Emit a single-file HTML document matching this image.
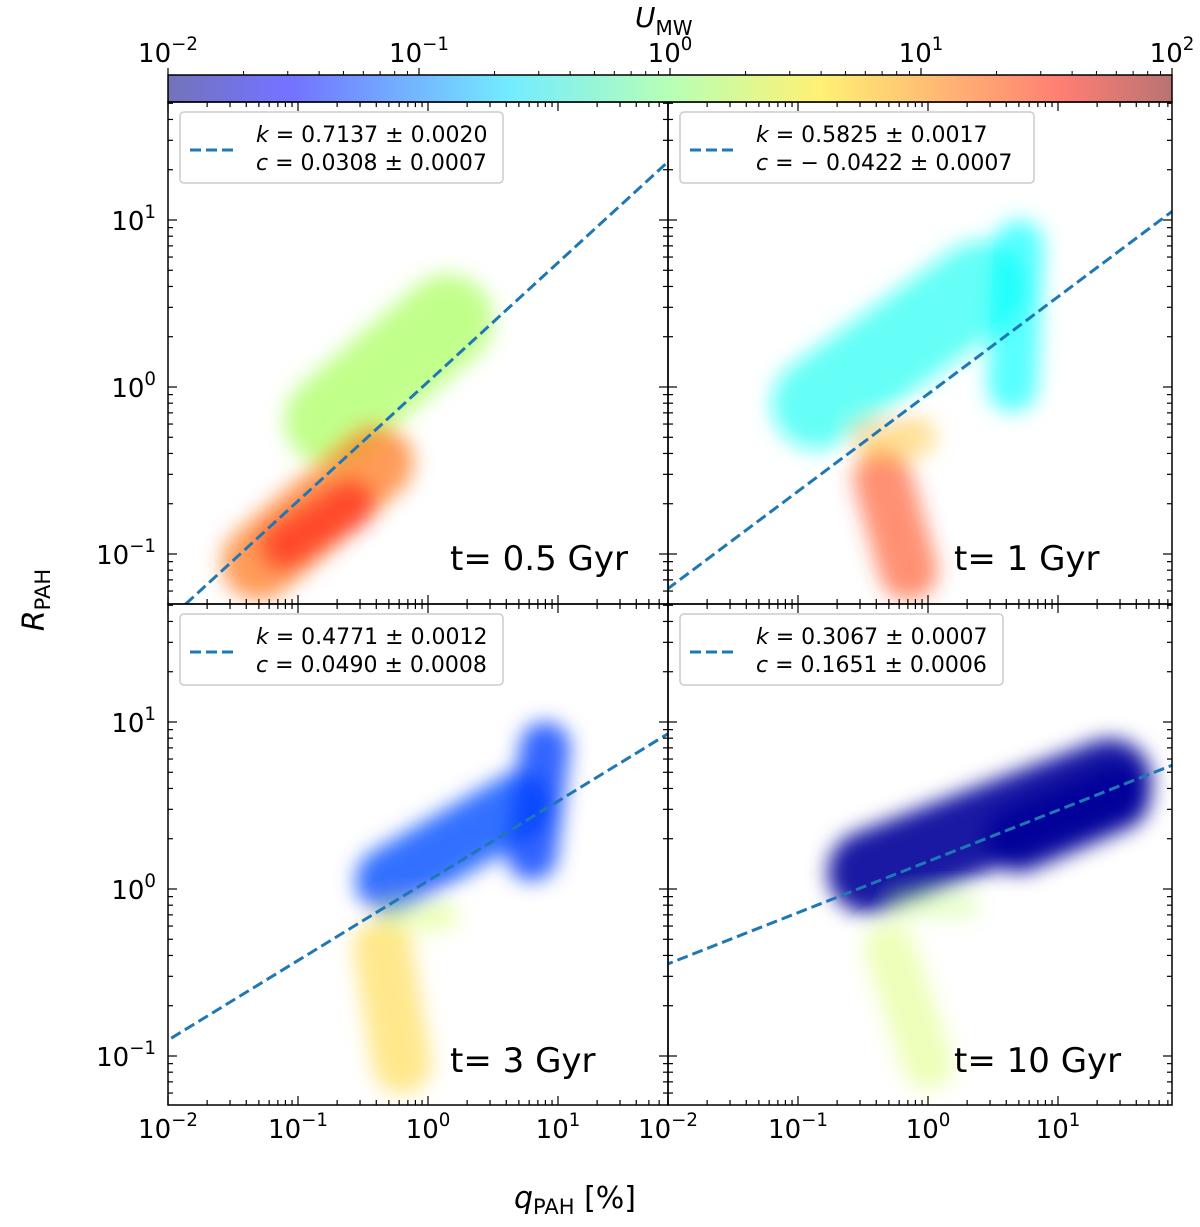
<!DOCTYPE html>
<html><head><meta charset="utf-8"><style>
body{margin:0;background:#fff;}
svg text{font-family:"DejaVu Sans","Liberation Sans",sans-serif;fill:#000;}
</style></head><body>
<svg id="chart" width="1200" height="1222" viewBox="0 0 1200 1222" xmlns="http://www.w3.org/2000/svg">
<defs>
<filter id="blur" x="-50%" y="-50%" width="200%" height="200%"><feGaussianBlur stdDeviation="10"/></filter>
<linearGradient id="jet" x1="0" x2="1" y1="0" y2="0">
<stop offset="0" stop-color="#00007f"/><stop offset="0.11" stop-color="#0000ff"/><stop offset="0.125" stop-color="#0000ff"/>
<stop offset="0.34" stop-color="#00dcff"/><stop offset="0.5" stop-color="#7dff7a"/><stop offset="0.65" stop-color="#ffe600"/>
<stop offset="0.89" stop-color="#ff1400"/><stop offset="1" stop-color="#7f0000"/></linearGradient>
<clipPath id="c0"><rect x="168" y="102" width="500" height="502"/></clipPath>
<clipPath id="c1"><rect x="668" y="102" width="504" height="502"/></clipPath>
<clipPath id="c2"><rect x="168" y="604" width="500" height="501"/></clipPath>
<clipPath id="c3"><rect x="668" y="604" width="504" height="501"/></clipPath>
</defs>
</svg>
<script>
// Fit parameters per panel
const fitK=[0.7137,0.5825,0.4771,0.3067];
const fitC=[0.0308,-0.0422,0.0490,0.1651];
const kLabels=["0.7137 ± 0.0020","0.5825 ± 0.0017","0.4771 ± 0.0012","0.3067 ± 0.0007"];
const cLabels=["0.0308 ± 0.0007","− 0.0422 ± 0.0007","0.0490 ± 0.0008","0.1651 ± 0.0006"];
const timeLabels=["t= 0.5 Gyr","t= 1 Gyr","t= 3 Gyr","t= 10 Gyr"];
// Point-cloud blobs: [logq1, logR1, logq2, logR2, width(decades), logU, opacity]
const cloud0=[[-0.75,-0.2,0.15,0.4,0.55,0.15,0.7],[-1.3,-1.05,-0.4,-0.45,0.45,1.1,0.65],[-1.1,-0.95,-0.6,-0.7,0.3,1.5,0.5]];
const cloud1=[[-0.85,-0.1,0.4,0.6,0.55,-0.45,0.65],[0.65,0.0,0.7,0.85,0.3,-0.5,0.65],[-0.35,-0.55,-0.15,-1.1,0.35,1.3,0.55],[-0.45,-0.3,-0.1,-0.3,0.25,0.8,0.4]];
const cloud2=[[-0.3,0.05,0.7,0.5,0.4,-1.2,0.8],[0.8,0.2,0.9,0.85,0.3,-1.25,0.8],[-0.35,-0.35,-0.2,-1.05,0.35,0.7,0.45],[-0.3,-0.15,0.1,-0.15,0.2,0.3,0.35]];
const cloud3=[[-0.45,0.1,1.4,0.65,0.5,-1.9,0.9],[0.7,0.3,1.45,0.55,0.4,-1.9,0.9],[-0.3,-0.35,0.0,-1.05,0.3,0.3,0.35],[-0.2,-0.1,0.3,-0.1,0.15,0.2,0.3]];
const clouds=[cloud0,cloud1,cloud2,cloud3];
const xTickLabels=["-2","-1","0","1"];
const yTickLabels=["-1","0","1"];
const cbTickLabels=["-2","-1","0","1","2"];

const S=document.getElementById('chart');const NS='http://www.w3.org/2000/svg';
function mk(t,a,p){const e=document.createElementNS(NS,t);for(const k in a)e.setAttribute(k,a[k]);(p||S).appendChild(e);return e;}
const panels=[{x0:168,x1:668,y0:102,y1:604,my:0},{x0:668,x1:1172,y0:102,y1:604,my:0},{x0:168,x1:668,y0:604,y1:1105,my:502},{x0:668,x1:1172,y0:604,y1:1105,my:502}];
const DX=130,DY=167;
function xs(p,lq){return p.x0+(lq+2)*DX;}
function ys(p,lr){return 387+p.my-lr*DY;}
function jet(lu){let t=Math.max(0,Math.min(1,(lu+2)/4));
 const f=v=>Math.max(0,Math.min(1,1.5-Math.abs(4*t-v)));
 return `rgb(${Math.round(255*f(3))},${Math.round(255*f(2))},${Math.round(255*f(1))})`;}
function sup(g,x,y,base,exp,anchor,size){const t=mk('text',{x:x,y:y,'text-anchor':anchor||'middle','font-size':size||26},g);
 t.textContent=base;const s=mk('tspan',{dy:-12,'font-size':(size||26)*0.7},t);s.textContent=exp.replace('-','−');return t;}

panels.forEach((p,i)=>{
 const g=mk('g',{'clip-path':`url(#c${i})`});
 
 
 const cg=mk('g',{filter:'url(#blur)'},g);
 clouds[i].forEach((b,j)=>{
  const l=mk('line',{x1:xs(p,b[0]),y1:ys(p,b[1]),x2:xs(p,b[2]),y2:ys(p,b[3]),stroke:jet(b[5]),'stroke-opacity':b[6],'stroke-width':b[4]*DY,'stroke-linecap':'round'},cg);
  
  
 });
 const la=-2.5,lb=2.2;
 const fl=mk('line',{x1:xs(p,la),y1:ys(p,fitK[i]*la+fitC[i]),x2:xs(p,lb),y2:ys(p,fitK[i]*lb+fitC[i]),stroke:'#1f77b4','stroke-width':3,'stroke-dasharray':'11,5'},g);
 
 
 const fr=mk('rect',{x:p.x0,y:p.y0,width:p.x1-p.x0,height:p.y1-p.y0,fill:'none',stroke:'#000','stroke-width':1.5});
 
 
 const tg=mk('g',{stroke:'#000','stroke-width':1.2});
 for(let d=-2;d<=2;d++)for(let m=1;m<10;m++){const lq=d+Math.log10(m);const x=xs(p,lq);if(x<p.x0-0.5||x>p.x1+0.5)continue;const L=m==1?9:5;
  mk('line',{x1:x,x2:x,y1:p.y1,y2:p.y1-L},tg);mk('line',{x1:x,x2:x,y1:p.y0,y2:p.y0+L},tg);}
 for(let d=-2;d<=2;d++)for(let m=1;m<10;m++){const lr=d+Math.log10(m);const y=ys(p,lr);if(y<p.y0-0.5||y>p.y1+0.5)continue;const L=m==1?9:5;
  mk('line',{y1:y,y2:y,x1:p.x0,x2:p.x0+L},tg);mk('line',{y1:y,y2:y,x1:p.x1,x2:p.x1-L},tg);}
 const lg=mk('g',{});
 
 
 const lx=p.x0+12,ly=p.y0+10;
 mk('rect',{x:lx,y:ly,width:(i==1?354:323),height:71,rx:4,fill:'#fff',stroke:'#ccc','stroke-width':1.5},lg);
 mk('line',{x1:lx+10,x2:lx+56,y1:ly+38,y2:ly+38,stroke:'#1f77b4','stroke-width':3,'stroke-dasharray':'11,5'},lg);
 let t=mk('text',{x:lx+76,y:ly+30,'font-size':22},lg);t.innerHTML='<tspan font-style="italic">k</tspan> = '+kLabels[i];
 t=mk('text',{x:lx+76,y:ly+58,'font-size':22},lg);t.innerHTML='<tspan font-style="italic">c</tspan> = '+cLabels[i];
 const tl=mk('text',{x:p.x0+(i%2?286:282),y:p.y0+468,'font-size':34});tl.textContent=timeLabels[i];
 
 
 if(i%2==0){yTickLabels.forEach((e,k)=>{sup(S,p.x0-12,ys(p,k-1)+10,'10',e,'end',26);});}
 if(i>=2){xTickLabels.forEach((e,k)=>{sup(S,xs(p,k-2),1138,'10',e,'middle',26);});}
});
const cb=mk('rect',{x:168,y:75,width:1004,height:27,fill:'url(#jet)',opacity:0.55,stroke:'none'});


mk('rect',{x:168,y:75,width:1004,height:27,fill:'none',stroke:'#000','stroke-width':1.5});
cbTickLabels.forEach((e,k)=>{const x=168+k*251;mk('line',{x1:x,x2:x,y1:75,y2:68,stroke:'#000','stroke-width':1.2});sup(S,x,62,'10',e,'middle',26);});
for(let d=-2;d<2;d++)for(let m=2;m<10;m++){const x=168+(d+2+Math.log10(m))*251;mk('line',{x1:x,x2:x,y1:75,y2:71,stroke:'#000','stroke-width':1});}
let t=mk('text',{x:635,y:27,'font-size':28});t.innerHTML='<tspan font-style="italic">U</tspan><tspan font-size="20" dy="8">MW</tspan>';

t=mk('text',{x:575,y:1208,'font-size':30,'text-anchor':'middle'});t.innerHTML='<tspan font-style="italic">q</tspan><tspan font-size="21" dy="6">PAH</tspan><tspan dy="-6"> [%]</tspan>';

t=mk('text',{x:0,y:0,'font-size':30,'text-anchor':'middle',transform:'translate(44,600) rotate(-90)'});t.innerHTML='<tspan font-style="italic">R</tspan><tspan font-size="21" dy="6">PAH</tspan>';

</script>
</body></html>
